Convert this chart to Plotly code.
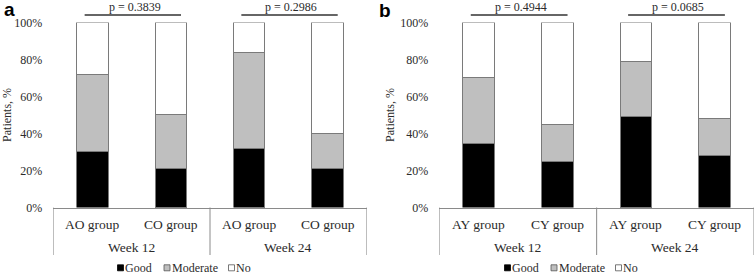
import plotly.graph_objects as go

# ---- data ----
weeks = ["Week 12", "Week 12", "Week 24", "Week 24"]
groups_a = ["AO group", "CO group", "AO group", "CO group"]
groups_b = ["AY group", "CY group", "AY group", "CY group"]
good_a = [30, 21, 32, 21]
moderate_a = [42, 29, 52, 19]
no_a = [28, 50, 16, 60]
good_b = [34.5, 25, 49, 28]
moderate_b = [36, 20, 30, 20]
no_b = [29.5, 55, 21, 52]
p_a = ["p = 0.3839", "p = 0.2986"]
p_b = ["p = 0.4944", "p = 0.0685"]
series_names = ["Good", "Moderate", "No"]
series_colors = ["#000000", "#bfbfbf", "#ffffff"]
y_ticks = [0, 20, 40, 60, 80, 100]
y_ticktext = [f"{v}%" for v in y_ticks]

W, H = 755, 274
SERIF = "Liberation Serif"
SANS = "Liberation Sans"
TXT = "#2b2b2b"
LINE = "#8a8a8a"
EDGE = "#7a7a7a"


def px_x(p):
    return p / W


def px_y(p):
    return (H - p) / H


fig = go.Figure()
pos = list(range(len(weeks)))

panels = [
    ("x", "y", groups_a, [good_a, moderate_a, no_a], p_a),
    ("x2", "y2", groups_b, [good_b, moderate_b, no_b], p_b),
]
for xa, ya, groups, vals, pv in panels:
    for name, col, v in zip(series_names, series_colors, vals):
        fig.add_trace(go.Bar(
            x=pos, y=v, name=name, xaxis=xa, yaxis=ya, showlegend=False,
            marker=dict(color=col, line=dict(color=EDGE, width=1)),
            width=0.4, hoverinfo="skip",
        ))


def xaxis_cfg(dom, anchor):
    return dict(domain=dom, range=[-0.5, 3.5], showticklabels=False, ticks="",
                showgrid=False, zeroline=False, showline=True, linecolor=LINE,
                linewidth=1, anchor=anchor, fixedrange=True, automargin=False)


def yaxis_cfg(anchor):
    return dict(domain=[px_y(207.5), px_y(22.4)], range=[0, 100], tickmode="array",
                tickvals=y_ticks, ticktext=y_ticktext,
                showgrid=False, zeroline=False, showline=False, ticks="",
                ticklabelstandoff=10, tickfont=dict(family=SERIF, size=12, color=TXT),
                title=dict(text="Patients, %", font=dict(family=SERIF, size=12, color=TXT), standoff=3),
                anchor=anchor, fixedrange=True, automargin=False)


fig.update_layout(
    width=W, height=H, barmode="stack",
    margin=dict(l=0, r=0, t=0, b=0, autoexpand=False),
    paper_bgcolor="white", plot_bgcolor="white",
    font=dict(family=SERIF, size=12, color=TXT),
    showlegend=False,
    xaxis=xaxis_cfg([px_x(53.3), px_x(366.7)], "y"),
    xaxis2=xaxis_cfg([px_x(439.3), px_x(754)], "y2"),
    yaxis=yaxis_cfg("x"),
    yaxis2=yaxis_cfg("x2"),
)

shapes = []
annotations = []
for (xa, ya, groups, vals, pv) in panels:
    xref = xa
    # vertical dividers of the category axis
    for xv in [-0.5, 1.5, 3.5]:
        shapes.append(dict(type="line", xref=xref, yref="paper", x0=xv, x1=xv,
                           y0=px_y(255), y1=px_y(207.5), line=dict(color=LINE, width=1)))
    # sub-category labels
    for i, g in enumerate(groups):
        annotations.append(dict(x=pos[i], y=px_y(224), xref=xref, yref="paper", text=g,
                                showarrow=False, yanchor="middle",
                                font=dict(family=SERIF, size=13.5, color=TXT)))
    # week labels
    for k, wk in enumerate(["Week 12", "Week 24"]):
        annotations.append(dict(x=2 * k + 0.5, y=px_y(247), xref=xref, yref="paper", text=wk,
                                showarrow=False, yanchor="middle",
                                font=dict(family=SERIF, size=13.5, color=TXT)))
    # p-value brackets
    for k, p in enumerate(pv):
        shapes.append(dict(type="line", xref=xref, yref="paper", x0=2 * k - 0.1, x1=2 * k + 1.13,
                           y0=px_y(15), y1=px_y(15), line=dict(color="#333333", width=1.5)))
        annotations.append(dict(x=2 * k + 0.54, y=px_y(7.5), xref=xref, yref="paper", text=p,
                                showarrow=False, yanchor="middle",
                                font=dict(family=SERIF, size=12, color=TXT)))

# panel letters
annotations.append(dict(x=px_x(1.5), y=px_y(9), xref="paper", yref="paper", text="<b>a</b>",
                        showarrow=False, xanchor="left", yanchor="middle",
                        font=dict(family=SANS, size=19, color="#000")))
annotations.append(dict(x=px_x(377), y=px_y(10.5), xref="paper", yref="paper", text="<b>b</b>",
                        showarrow=False, xanchor="left", yanchor="middle",
                        font=dict(family=SANS, size=19, color="#000")))

# legend keys (one legend under each panel)
key_offsets = [0, 46.5, 111]
legend_starts = [117.5, 504.5]
ly = 267.8
for base in legend_starts:
    for off, name, col in zip(key_offsets, series_names, series_colors):
        x0 = base + off
        shapes.append(dict(type="rect", xref="paper", yref="paper",
                           x0=px_x(x0), x1=px_x(x0 + 6), y0=px_y(ly + 3), y1=px_y(ly - 3),
                           fillcolor=col, line=dict(color="#555555" if col != "#000000" else "#000000", width=0.8)))
        annotations.append(dict(x=px_x(x0 + 6.5), y=px_y(ly), xref="paper", yref="paper",
                                text=name, showarrow=False, xanchor="left", yanchor="middle",
                                borderpad=0, font=dict(family=SERIF, size=12, color=TXT)))

fig.update_layout(shapes=shapes, annotations=annotations)

fig.write_html("out.html", config={"displayModeBar": False},
               post_script="document.body.style.margin='0';document.body.style.padding='0';")
